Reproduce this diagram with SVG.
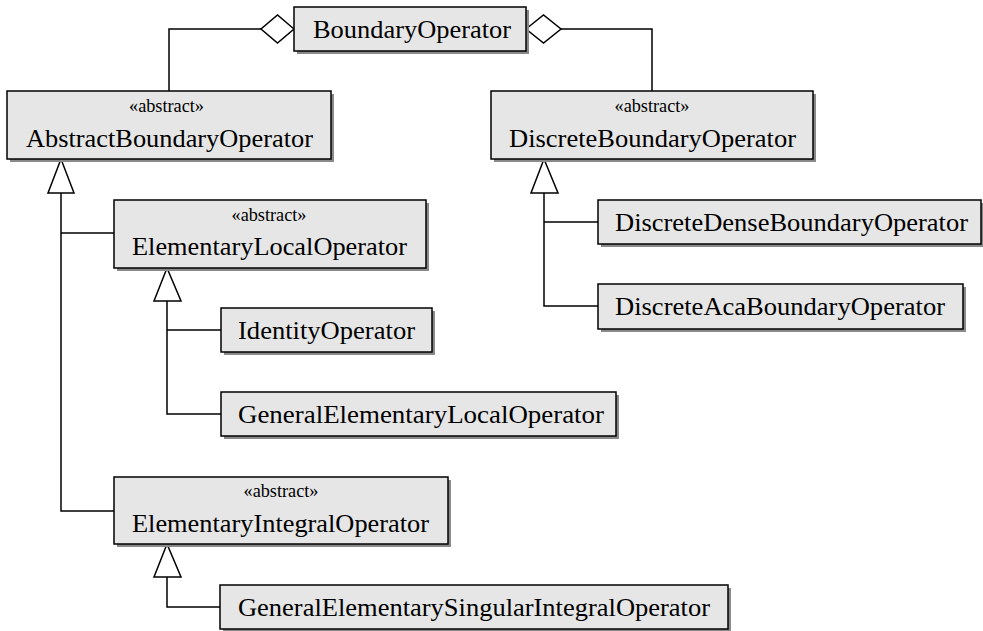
<svg xmlns="http://www.w3.org/2000/svg" width="983" height="631" viewBox="0 0 983 631">
<style>
.box{fill:#e6e6e6;stroke:#000;stroke-width:1.5}
.sh{fill:#8a8a8a}
.t{font-family:"Liberation Serif","Times New Roman",serif;font-size:26px;fill:#000;text-anchor:middle}
.s{font-family:"Liberation Serif","Times New Roman",serif;font-size:18px;fill:#000;text-anchor:middle}
.ln{fill:none;stroke:#000;stroke-width:1.5}
.hd{fill:#fff;stroke:#000;stroke-width:1.5}
</style>
<rect width="983" height="631" fill="#fff"/>
<g id="connectors">
<path class="ln" d="M261,29 H169 V91"/>
<polygon class="hd" points="294,29 277.5,15 261,29 277.5,43"/>
<path class="ln" d="M561,29 H652 V91"/>
<polygon class="hd" points="526,29 543.5,15 561,29 543.5,43"/>
<path class="ln" d="M61,193 V511 H114 M61,233 H114"/>
<polygon class="hd" points="61,159 48,193 74,193"/>
<path class="ln" d="M544,193 V306 H598 M544,222 H598"/>
<polygon class="hd" points="544,159 531,193 558,193"/>
<path class="ln" d="M167,301 V414 H221 M167,330 H221"/>
<polygon class="hd" points="167,268 154,301 181,301"/>
<path class="ln" d="M167,577 V607 H220"/>
<polygon class="hd" points="167,544 154,577 181,577"/>
</g>
<g id="BoundaryOperator">
<rect class="sh" x="297" y="10" width="232" height="44"/>
<rect class="box" x="294" y="7" width="232" height="44"/>
<text class="t" x="412" y="38" textLength="198" lengthAdjust="spacingAndGlyphs">BoundaryOperator</text>
</g>
<g id="AbstractBoundaryOperator">
<rect class="sh" x="10" y="94" width="324" height="68"/>
<rect class="box" x="7" y="91" width="324" height="68"/>
<text class="s" x="166.5" y="112" textLength="75" lengthAdjust="spacingAndGlyphs">«abstract»</text>
<text class="t" x="169.5" y="147" textLength="287" lengthAdjust="spacingAndGlyphs">AbstractBoundaryOperator</text>
</g>
<g id="DiscreteBoundaryOperator">
<rect class="sh" x="494" y="94" width="322" height="68"/>
<rect class="box" x="491" y="91" width="322" height="68"/>
<text class="s" x="652" y="112" textLength="75" lengthAdjust="spacingAndGlyphs">«abstract»</text>
<text class="t" x="652.5" y="147" textLength="287" lengthAdjust="spacingAndGlyphs">DiscreteBoundaryOperator</text>
</g>
<g id="ElementaryLocalOperator">
<rect class="sh" x="117" y="203" width="312" height="68"/>
<rect class="box" x="114" y="200" width="312" height="68"/>
<text class="s" x="269" y="221" textLength="75" lengthAdjust="spacingAndGlyphs">«abstract»</text>
<text class="t" x="269.5" y="255" textLength="275" lengthAdjust="spacingAndGlyphs">ElementaryLocalOperator</text>
</g>
<g id="IdentityOperator">
<rect class="sh" x="224" y="311" width="211" height="44"/>
<rect class="box" x="221" y="308" width="211" height="44"/>
<text class="t" x="326.5" y="339" textLength="177" lengthAdjust="spacingAndGlyphs">IdentityOperator</text>
</g>
<g id="GeneralElementaryLocalOperator">
<rect class="sh" x="224" y="395" width="395" height="44"/>
<rect class="box" x="221" y="392" width="395" height="44"/>
<text class="t" x="421" y="423" textLength="366" lengthAdjust="spacingAndGlyphs">GeneralElementaryLocalOperator</text>
</g>
<g id="ElementaryIntegralOperator">
<rect class="sh" x="117" y="480" width="334" height="67"/>
<rect class="box" x="114" y="477" width="334" height="67"/>
<text class="s" x="281" y="497" textLength="75" lengthAdjust="spacingAndGlyphs">«abstract»</text>
<text class="t" x="280.5" y="532" textLength="297" lengthAdjust="spacingAndGlyphs">ElementaryIntegralOperator</text>
</g>
<g id="GeneralElementarySingularIntegralOperator">
<rect class="sh" x="223" y="588" width="508" height="44"/>
<rect class="box" x="220" y="585" width="508" height="44"/>
<text class="t" x="474" y="616" textLength="472" lengthAdjust="spacingAndGlyphs">GeneralElementarySingularIntegralOperator</text>
</g>
<g id="DiscreteDenseBoundaryOperator">
<rect class="sh" x="601" y="203" width="383" height="44"/>
<rect class="box" x="598" y="200" width="383" height="44"/>
<text class="t" x="791.5" y="231" textLength="353" lengthAdjust="spacingAndGlyphs">DiscreteDenseBoundaryOperator</text>
</g>
<g id="DiscreteAcaBoundaryOperator">
<rect class="sh" x="601" y="287" width="365" height="45"/>
<rect class="box" x="598" y="284" width="365" height="45"/>
<text class="t" x="780" y="315" textLength="330" lengthAdjust="spacingAndGlyphs">DiscreteAcaBoundaryOperator</text>
</g>
</svg>
